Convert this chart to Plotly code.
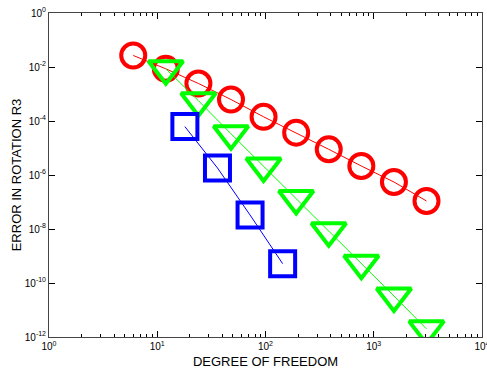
import plotly.graph_objects as go

# Data (log-log)
red_x = [6, 12, 24, 48, 96, 192, 384, 768, 1536, 3072]
red_y = [2.67e-2, 8.57e-3, 2.45e-3, 6.25e-4, 1.43e-4, 3.69e-5, 8.95e-6, 2.15e-6, 5.51e-7, 1.09e-7]

green_x = [12, 24, 48, 96, 192, 384, 768, 1536, 3072]
green_y = [8.57e-3, 5.65e-4, 3.36e-5, 2.15e-6, 1.34e-7, 8.65e-9, 5.37e-10, 3.31e-11, 2.0e-12]

blue_x = [18, 36, 72, 144]
blue_y = [6.2e-5, 1.82e-6, 3.3e-8, 5.2e-10]

x_ticks = [1, 10, 100, 1000, 10000]
x_ticktext = ["10<sup>0</sup>", "10<sup>1</sup>", "10<sup>2</sup>", "10<sup>3</sup>", "10<sup>4</sup>"]
y_ticks = [1, 1e-2, 1e-4, 1e-6, 1e-8, 1e-10, 1e-12]
y_ticktext = ["10<sup>0</sup>", "10<sup>-2</sup>", "10<sup>-4</sup>", "10<sup>-6</sup>",
              "10<sup>-8</sup>", "10<sup>-10</sup>", "10<sup>-12</sup>"]
x_minor = [d * 10 ** k for k in range(0, 4) for d in range(2, 10)]

fig = go.Figure()
fig.add_trace(go.Scatter(x=red_x, y=red_y, mode="lines+markers",
                         line=dict(color="#FF0000", width=1),
                         marker=dict(symbol="circle-open", size=24, color="#FF0000",
                                     line=dict(width=4, color="#FF0000"))))
fig.add_trace(go.Scatter(x=green_x, y=green_y, mode="lines+markers",
                         line=dict(color="#00FF00", width=1),
                         marker=dict(symbol="triangle-down-open", size=30, color="#00FF00",
                                     line=dict(width=4, color="#00FF00"))))
fig.add_trace(go.Scatter(x=blue_x, y=blue_y, mode="lines+markers",
                         line=dict(color="#0000FF", width=1),
                         marker=dict(symbol="square-open", size=25, color="#0000FF",
                                     line=dict(width=4, color="#0000FF"))))

fam = "Liberation Sans, Arial, sans-serif"
axis_font = dict(family=fam, size=10, color="#000000")
fig.update_layout(
    width=487, height=369,
    margin=dict(l=49, r=5, t=13, b=32, autoexpand=False),
    paper_bgcolor="white", plot_bgcolor="white",
    showlegend=False,
    font=axis_font,
    xaxis=dict(type="log", range=[0, 4], tickmode="array", tickvals=x_ticks, ticktext=x_ticktext,
               ticks="inside", ticklen=6, tickcolor="#000000", tickwidth=1,
               showline=True, linecolor="#444444", linewidth=1, mirror="allticks",
               showgrid=False, zeroline=False, automargin=False, ticklabeloverflow="allow",
               minor=dict(tickvals=x_minor, ticks="inside", ticklen=3, tickcolor="#000000", showgrid=False),
               tickfont=axis_font,
               title=dict(text="DEGREE OF FREEDOM", font=dict(family=fam, size=13, color="#000000"))),
    yaxis=dict(type="log", range=[-12, 0], tickmode="array", tickvals=y_ticks, ticktext=y_ticktext,
               ticks="inside", ticklen=6, tickcolor="#000000", tickwidth=1,
               showline=True, linecolor="#444444", linewidth=1, mirror="allticks",
               showgrid=False, zeroline=False, automargin=False, ticklabeloverflow="allow",
               tickfont=axis_font,
               title=dict(text="ERROR IN ROTATION R3", standoff=0,
                          font=dict(family=fam, size=13, color="#000000"))),
)

fig.write_html("out.html", config={"displayModeBar": False},
               post_script="document.body.style.margin='0';document.body.style.overflow='hidden';")
